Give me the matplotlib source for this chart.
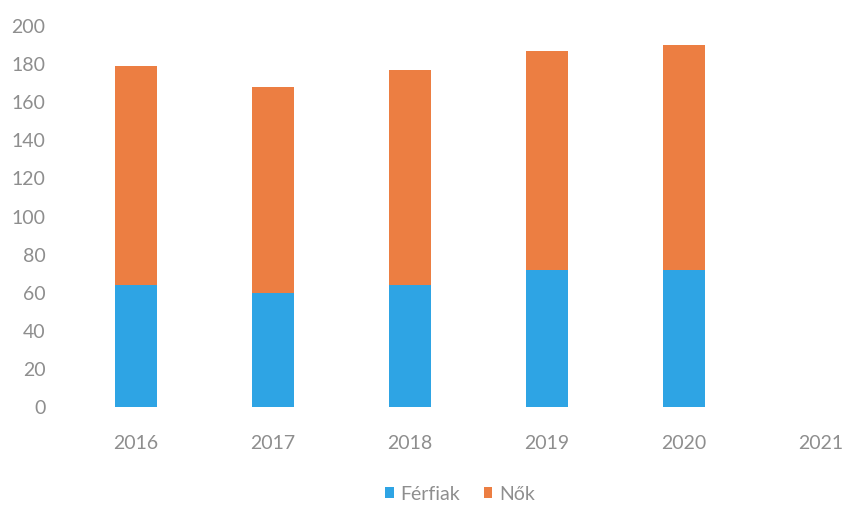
import matplotlib
matplotlib.use("Agg")
import matplotlib.pyplot as plt
import numpy as np

years = ["2016", "2017", "2018", "2019", "2020", "2021"]
ferfiak = [64, 60, 64, 72, 72, np.nan]
nok_total = [179, 168, 177, 187, 190, np.nan]
nok = [t - f for t, f in zip(nok_total, ferfiak)]
y_ticks = list(range(0, 201, 20))

blue = "#2ea4e4"
orange = "#ec7e42"
grey = "#8e8e8e"

plt.rcParams["font.family"] = ["Lato", "DejaVu Sans"]

fig = plt.figure(figsize=(8.47, 5.05), dpi=100)
# category spacing ~137 px; the last slot runs past the right edge
left_px, right_px = 67.5, 889.5
bottom_px, top_px = 407, 26
ax = fig.add_axes([left_px / 847, (505 - bottom_px) / 505,
                   (right_px - left_px) / 847, (bottom_px - top_px) / 505])

x = np.arange(len(years))
w = 0.31
ax.bar(x, ferfiak, width=w, color=blue, label="Férfiak")
ax.bar(x, nok, width=w, bottom=ferfiak, color=orange, label="Nők")

ax.set_xlim(-0.5, len(years) - 0.5)
ax.set_ylim(0, 200)
ax.set_yticks(y_ticks)
ax.set_xticks(x)
ax.set_xticklabels(years)
for s in ax.spines.values():
    s.set_visible(False)
ax.tick_params(axis="both", length=0, colors=grey, labelsize=14)
ax.tick_params(axis="x", pad=20.5)
ax.tick_params(axis="y", pad=16)

leg = fig.legend(loc="center", bbox_to_anchor=(460 / 847, 1 - 494 / 505),
                 ncol=2, frameon=False, fontsize=14, handlelength=0.45,
                 handleheight=0.45, handletextpad=0.35, columnspacing=1.2,
                 borderpad=0.1)
for t in leg.get_texts():
    t.set_color(grey)

fig.savefig("out.png", dpi=100)
